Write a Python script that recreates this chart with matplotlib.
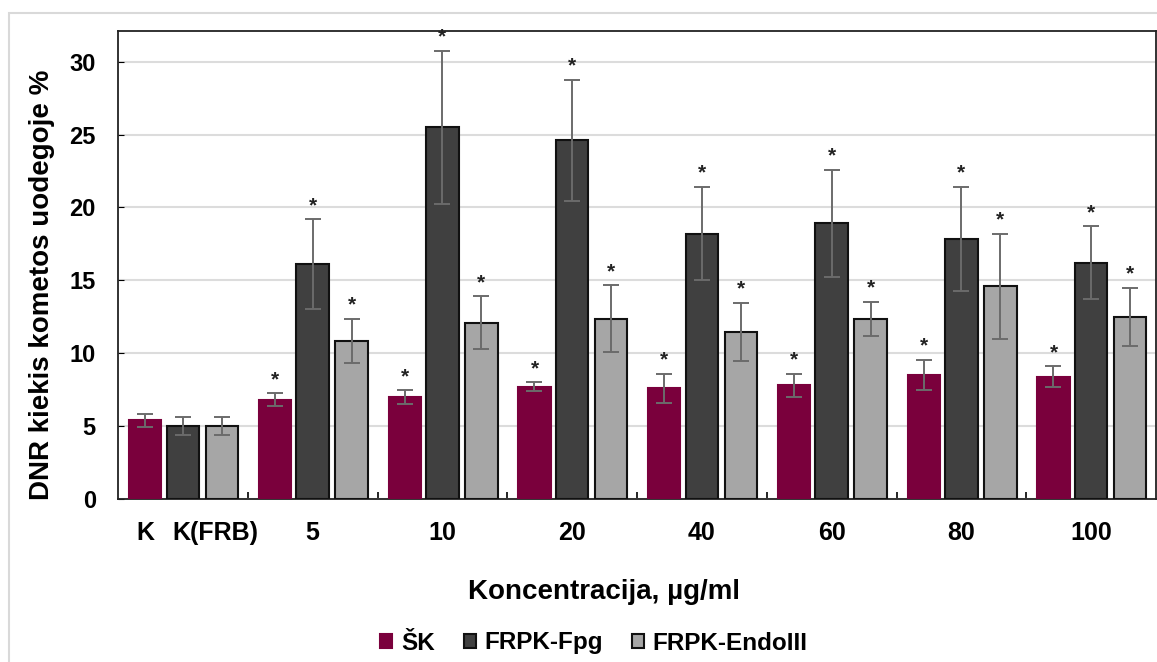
import matplotlib.pyplot as plt
import numpy as np
from matplotlib.patches import Rectangle

plt.rcParams['font.family'] = ['Liberation Sans', 'DejaVu Sans']
plt.rcParams['font.weight'] = 'bold'

groups = ['K', '5', '10', '20', '40', '60', '80', '100']
series = ['ŠK', 'FRPK-Fpg', 'FRPK-EndoIII']
colors = ['#7a003c', '#404040', '#a6a6a6']
edges = ['#7a003c', '#111111', '#111111']

sk = [5.4, 6.8, 7.0, 7.7, 7.6, 7.8, 8.5, 8.4]
sk_err = [0.45, 0.45, 0.45, 0.3, 1.0, 0.8, 1.05, 0.7]
fpg = [5.0, 16.1, 25.5, 24.6, 18.2, 18.9, 17.85, 16.2]
fpg_err = [0.62, 3.1, 5.25, 4.15, 3.2, 3.7, 3.57, 2.5]
endo = [5.0, 10.85, 12.1, 12.35, 11.45, 12.35, 14.6, 12.5]
endo_err = [0.62, 1.5, 1.8, 2.3, 2.0, 1.17, 3.6, 2.0]
# significance stars: all treated groups, not the controls
star = [False, True, True, True, True, True, True, True]

fig = plt.figure(figsize=(11.57, 6.62), dpi=100)
fig.patches.append(Rectangle((9 / 1157, -0.1), 1.2, 1 - 13 / 662 + 0.1,
                             transform=fig.transFigure, fill=False,
                             edgecolor='#d9d9d9', linewidth=1.5))
ax = fig.add_axes([118 / 1157, 1 - 499 / 662, (1156 - 118) / 1157, (499 - 31) / 662])

x = np.arange(len(groups))
offs = [-0.29, 0.0, 0.30]
w = 0.25
for vals, errs, off, c, e, lab in zip([sk, fpg, endo], [sk_err, fpg_err, endo_err],
                                      offs, colors, edges, series):
    ax.bar(x + off, vals, w, color=c, edgecolor=e, linewidth=1.5, label=lab, zorder=3)
    ax.errorbar(x + off, vals, yerr=errs, fmt='none', ecolor='#6b6b6b',
                elinewidth=1.4, capsize=5.5, capthick=1.4, zorder=4)
    for xi, v, er, s in zip(x + off, vals, errs, star):
        if s:
            ax.annotate('*', (xi, v + er), xytext=(0, 3), textcoords='offset points',
                        ha='center', va='bottom', fontsize=15, fontweight='bold',
                        color='#222222', zorder=5)

ax.set_xlim(-0.5, len(groups) - 0.5)
ax.set_ylim(0, 32.1)
ax.set_yticks(range(0, 31, 5))
ax.yaxis.grid(True, color='#dcdcdc', linewidth=1.5, zorder=0)
ax.set_axisbelow(True)
ax.tick_params(axis='y', direction='in', length=4, pad=16, labelsize=17)

tick_pos = [offs[0], 0.25] + list(x[1:])
tick_lab = ['K', 'K(FRB)'] + groups[1:]
ax.set_xticks(tick_pos)
ax.set_xticklabels(tick_lab)
ax.tick_params(axis='x', length=0, pad=16, labelsize=18)
ax.set_xticks(x[:-1] + 0.5, minor=True)
ax.tick_params(axis='x', which='minor', direction='in', length=5, width=1.2)

for sp in ax.spines.values():
    sp.set_linewidth(1.3)
    sp.set_color('#222222')

fig.text(42 / 1157, 1 - 285 / 662, 'DNR kiekis kometos uodegoje %', rotation=90,
         ha='center', va='center', fontsize=20, fontweight='bold')
fig.text(604 / 1157, 1 - 592 / 662, 'Koncentracija, µg/ml', ha='center', va='center',
         fontsize=20, fontweight='bold')

handles, labels = ax.get_legend_handles_labels()
fig.legend(handles, labels, loc='center', bbox_to_anchor=(594 / 1157, 1 - 643 / 662),
           ncol=3, frameon=False, fontsize=17.5, handlelength=0.5, handleheight=0.5,
           handletextpad=0.35, columnspacing=1.2)

fig.savefig('out.png', dpi=100)
